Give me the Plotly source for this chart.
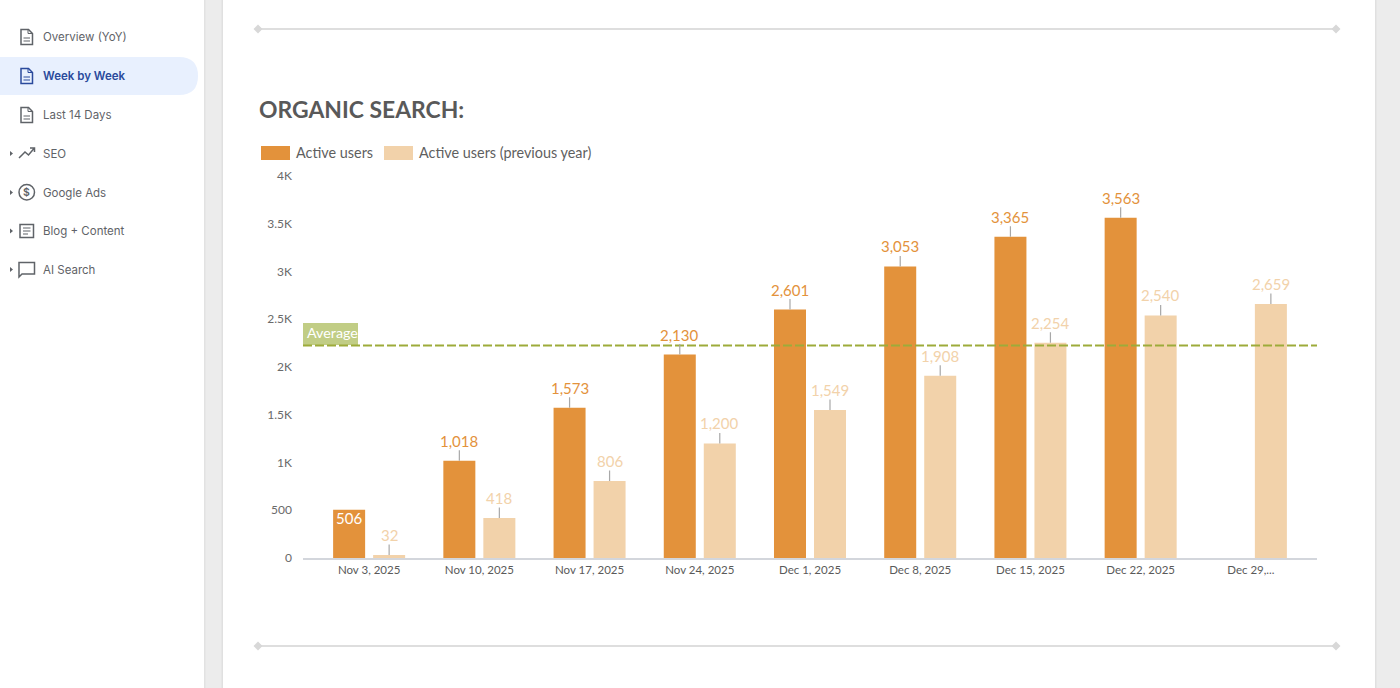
import re
import plotly.graph_objects as go

categories = ["Nov 3, 2025", "Nov 10, 2025", "Nov 17, 2025", "Nov 24, 2025", "Dec 1, 2025",
              "Dec 8, 2025", "Dec 15, 2025", "Dec 22, 2025", "Dec 29,..."]
active_users = [506, 1018, 1573, 2130, 2601, 3053, 3365, 3563, None]
active_users_prev = [32, 418, 806, 1200, 1549, 1908, 2254, 2540, 2659]
average_value = 2225
y_ticks = [0, 500, 1000, 1500, 2000, 2500, 3000, 3500, 4000]
y_tick_labels = ["0", "500", "1K", "1.5K", "2K", "2.5K", "3K", "3.5K", "4K"]
nav_items = ["Overview (YoY)", "Week by Week", "Last 14 Days", "SEO", "Google Ads", "Blog + Content", "AI Search"]

ORANGE = "#e3923b"
PEACH = "#f2d2aa"
W, H = 1400, 688
L, R, T, B = 303, 1317, 176, 558


def fx(x):
    return (x - L) / (R - L)


def fy(y):
    return (B - y) / (B - T)


def pth(s):
    """Turn a path written in page pixels into a paper-coordinate path."""
    out, is_x = [], True
    for tok in re.findall(r"[MLQCZ]|-?\d+\.?\d*", s):
        if tok in "MLQCZ":
            out.append(tok)
            is_x = True
        else:
            v = float(tok)
            out.append(f"{fx(v) if is_x else fy(v):.5f}")
            is_x = not is_x
    return " ".join(out)


shapes, annos = [], []


def rect(x0, y0, x1, y1, fill):
    shapes.append(dict(type="rect", xref="paper", yref="paper", x0=fx(x0), x1=fx(x1), y0=fy(y0), y1=fy(y1),
                       fillcolor=fill, line_width=0, layer="below"))


def stroke(d, color="#5f6368", width=1.5, fill=None):
    shapes.append(dict(type="path", xref="paper", yref="paper", path=pth(d),
                       line=dict(color=color, width=width), fillcolor=fill or "rgba(0,0,0,0)", layer="below"))


def text(x, y, s, size, color, family="Lato", anchor="left", weight=None):
    annos.append(dict(xref="paper", yref="paper", x=fx(x), y=fy(y), text=s, showarrow=False, xanchor=anchor,
                      yanchor="middle", xshift=-2 if anchor == "left" else 0,
                      font=dict(size=size, color=color, family=family, weight=weight or 400)))


# page structure
rect(205, 0, 223, H, "#ececec")
rect(1376, 0, 1400, H, "#ececec")
rect(204, 0, 205.5, H, "#e2e2e2")
rect(221.5, 0, 223, H, "#e0e0e0")
rect(1375, 0, 1376.5, H, "#e0e0e0")

# sidebar
shapes.append(dict(type="path", xref="paper", yref="paper", layer="below", fillcolor="#e8f0fe", line_width=0,
                   path=pth("M 0 57 L 179 57 Q 198 57 198 76 Q 198 95 179 95 L 0 95 Z")))
nav_y = [37, 76, 115, 153.5, 192.5, 231, 269.5]
for i, (label, y) in enumerate(zip(nav_items, nav_y)):
    active = i == 1
    col = "#2a4a9c" if active else "#5f6368"
    text(43, y, label, 11.5, col, "Inter", weight=600 if active else 400)
    if i < 3:
        stroke(f"M 21 {y-7.5} L 28.5 {y-7.5} L 32.5 {y-3.5} L 32.5 {y+7.5} L 21 {y+7.5} Z", col)
        stroke(f"M 28 {y-7.5} L 28 {y-3.5} L 32.5 {y-3.5}", col, 1)
        stroke(f"M 23.5 {y+1} L 30 {y+1} M 23.5 {y+4} L 30 {y+4}", col, 1.2)
    else:
        shapes.append(dict(type="path", xref="paper", yref="paper", layer="below", fillcolor="#5f6368", line_width=0,
                           path=pth(f"M 10 {y-2.5} L 13 {y} L 10 {y+2.5} Z")))
stroke("M 19 158 L 25 152 L 28.5 155 L 34 148.5 M 30 148 L 34.5 148 L 34.5 152", width=1.5)
shapes.append(dict(type="circle", xref="paper", yref="paper", x0=fx(19), x1=fx(34.5), y0=fy(184.5), y1=fy(200),
                   line=dict(color="#5f6368", width=1.5), layer="below"))
text(26.8, 192, "$", 10.5, "#5f6368", "Inter", "center", 600)
stroke("M 20 224.5 L 33.5 224.5 L 33.5 237.5 L 20 237.5 Z")
stroke("M 23 228 L 30.5 228 M 23 231 L 30.5 231 M 23 234 L 28 234", width=1.2)
stroke("M 19 262.5 L 34.5 262.5 L 34.5 274 L 22 274 L 19 277 Z")

# separators
for y in (29, 646):
    shapes.append(dict(type="line", xref="paper", yref="paper", x0=fx(258), x1=fx(1336), y0=fy(y), y1=fy(y),
                       line=dict(color="#dedede", width=2), layer="below"))
    for x in (258, 1336):
        shapes.append(dict(type="path", xref="paper", yref="paper", layer="below", fillcolor="#d8d8d8", line_width=0,
                           path=pth(f"M {x-4.5} {y} L {x} {y-4.5} L {x+4.5} {y} L {x} {y+4.5} Z")))

# title and legend
text(259, 109, "ORGANIC SEARCH:", 22.9, "#595959", weight=700)
rect(261, 146, 290, 160, ORANGE)
text(296, 152.5, "Active users", 14.4, "#5f5f5f")
rect(384, 146, 413, 160, PEACH)
text(419, 152.5, "Active users (previous year)", 14.4, "#5f5f5f")

# value labels with leader lines
OFFSET = 20
for name, vals, col, shift in (("cur", active_users, ORANGE, -20), ("prev", active_users_prev, PEACH, 20)):
    for cat, v in zip(categories, vals):
        if v is None:
            continue
        inside = v == 506
        annos.append(dict(x=cat, y=v, xref="x", yref="y", text=f"{v:,}", xshift=shift,
                          showarrow=not inside, ax=0, ay=-OFFSET, axref="pixel", ayref="pixel",
                          arrowhead=0, arrowwidth=1.2, arrowcolor="#a8a8a8", standoff=0, startstandoff=0,
                          yshift=-8 if inside else 0, borderpad=0,
                          font=dict(size=15, color="#ffffff" if inside else col, family="Lato")))

# average line and label
rect(303, 323, 358, 345, "#c1cd85")
text(307, 332, "Average", 14.3, "#ffffff")
shapes.append(dict(type="line", xref="paper", yref="y", x0=0, x1=1, y0=average_value, y1=average_value,
                   line=dict(color="#9dab3a", width=2, dash="9px,3px"), layer="above"))

fig = go.Figure()
fig.add_bar(x=categories, y=active_users, name="Active users", marker_color=ORANGE, marker_line_width=0,
            showlegend=False)
fig.add_bar(x=categories, y=active_users_prev, name="Active users (previous year)", marker_color=PEACH,
            marker_line_width=0, showlegend=False)
fig.update_layout(
    width=W, height=H, autosize=False, paper_bgcolor="#ffffff", plot_bgcolor="rgba(0,0,0,0)",
    margin=dict(l=L, r=W - R, t=T, b=H - B, pad=0), barmode="group", bargap=0.274, bargroupgap=0.2,
    font=dict(family="Lato", color="#5f5f5f"), shapes=shapes, annotations=annos, hovermode=False,
    xaxis=dict(type="category", categoryorder="array", categoryarray=categories, range=[-0.6, 8.6], showgrid=False,
               showline=True, linecolor="#d3d6dc", linewidth=1.5, ticks="", tickfont=dict(size=11.5, color="#5a5a5a"),
               ticklabelstandoff=0, zeroline=False),
    yaxis=dict(range=[0, 4000], tickvals=y_ticks, ticktext=y_tick_labels, showgrid=False, zeroline=False,
               showline=False, ticks="", tickfont=dict(size=12, color="#6a6a6a"), ticklabelstandoff=10),
)
fig.write_html("out.html", config=dict(displayModeBar=False),
               post_script="document.body.style.margin='0';document.body.style.overflow='hidden';")
